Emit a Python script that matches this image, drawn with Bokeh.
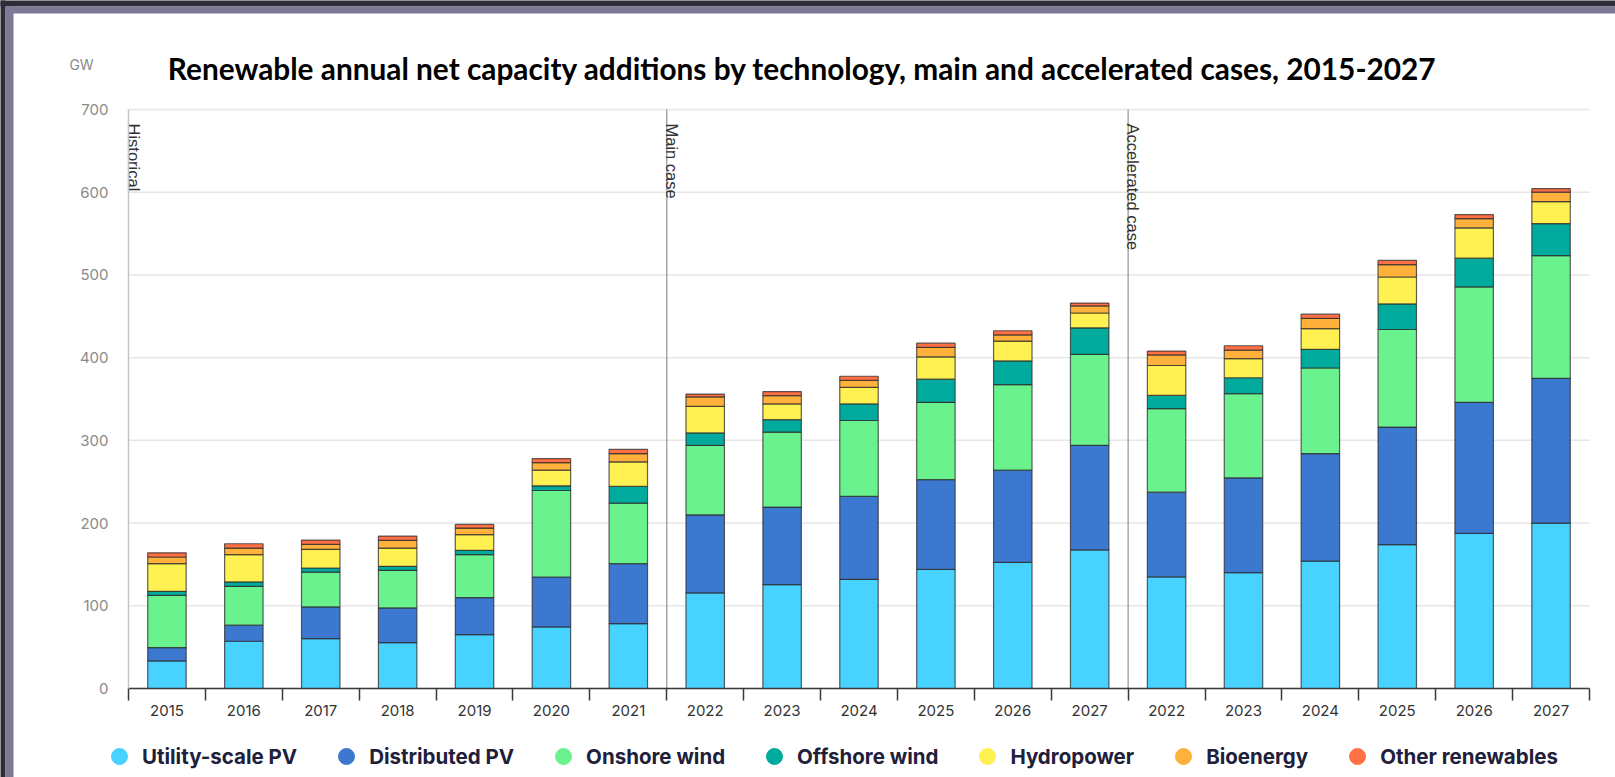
import math
from bokeh.plotting import figure
from bokeh.models import (ColumnDataSource, Range1d, FixedTicker, Label,
                          Legend, LegendItem)
from bokeh.core.properties import value
from bokeh.embed import file_html
from bokeh.resources import INLINE

# ---------------- data ----------------
hist_years = ["2015", "2016", "2017", "2018", "2019", "2020", "2021"]
main_years = ["2022", "2023", "2024", "2025", "2026", "2027"]
acc_years = ["2022", "2023", "2024", "2025", "2026", "2027"]
section_labels = ["Historical", "Main case", "Accelerated case"]

series_names = ["Utility-scale PV", "Distributed PV", "Onshore wind", "Offshore wind",
                "Hydropower", "Bioenergy", "Other renewables"]
colors = ["#48D2FF", "#3C78D0", "#6AF28F", "#00AA9C", "#FFF152", "#FFB13B", "#FF7044"]

utility_pv = [33.4, 57.1, 60.4, 55.5, 65.2, 74.4, 78.5,
              115.5, 125.6, 132.0, 144.0, 152.5, 167.5,
              135.0, 140.0, 154.0, 174.0, 187.5, 200.0]
distributed_pv = [16.1, 19.4, 38.2, 41.9, 44.7, 60.4, 72.4,
                  94.5, 93.7, 100.2, 108.5, 111.5, 126.5,
                  102.4, 114.7, 130.0, 142.0, 158.5, 175.0]
onshore_wind = [63.2, 47.0, 42.2, 45.5, 51.9, 104.6, 73.1,
                84.0, 90.7, 91.8, 93.5, 103.5, 110.0,
                100.9, 101.7, 103.5, 118.0, 139.5, 148.4]
offshore_wind = [4.8, 5.3, 4.9, 4.8, 5.2, 5.6, 20.3,
                 15.0, 15.0, 20.0, 28.0, 28.5, 32.0,
                 16.0, 19.3, 22.5, 31.0, 34.7, 38.7]
hydropower = [33.5, 33.0, 22.5, 22.1, 19.0, 19.0, 29.7,
              32.0, 19.0, 20.0, 27.0, 24.0, 18.0,
              36.2, 23.1, 25.0, 32.5, 36.7, 26.6]
bioenergy = [8.0, 8.0, 6.0, 9.2, 8.0, 9.0, 10.0,
             11.5, 10.0, 8.5, 11.5, 7.5, 8.5,
             12.8, 10.2, 12.5, 15.0, 11.2, 11.3]
other_renewables = [5.0, 5.2, 5.3, 5.3, 4.4, 5.0, 5.0,
                    3.5, 5.0, 5.0, 5.0, 5.0, 3.5,
                    4.7, 5.4, 5.0, 5.0, 4.9, 4.4]

y_ticks = [0, 100, 200, 300, 400, 500, 600, 700]
title_text = "Renewable annual net capacity additions by technology, main and accelerated cases, 2015-2027"
unit_text = "GW"

# ---------------- layout (pixels) ----------------
W, H = 1615, 777
PLOT_L, PLOT_R, PLOT_T, PLOT_B = 128, 1589, 109, 688
Y_MAX = 700

labels = hist_years + main_years + acc_years
n = len(labels)
ux = (PLOT_R - PLOT_L) / n
uy = (PLOT_B - PLOT_T) / Y_MAX


def px2x(px):
    return (px - PLOT_L) / ux


def py2y(py):
    return (PLOT_B - py) / uy


xs = [i + 0.5 for i in range(n)]
keys = ["utility", "distributed", "onshore", "offshore", "hydro", "bio", "other"]
values_all = [utility_pv, distributed_pv, onshore_wind, offshore_wind,
              hydropower, bioenergy, other_renewables]
data = {"x": xs}
for k, v in zip(keys, values_all):
    data[k] = v
source = ColumnDataSource(data)

p = figure(width=W, height=H, output_backend="svg", toolbar_location=None,
           x_range=Range1d(px2x(0), px2x(W)), y_range=Range1d(py2y(H), py2y(0)),
           min_border_left=0, min_border_right=0, min_border_top=0,
           min_border_bottom=0, outline_line_color=None)
p.background_fill_color = "white"
p.border_fill_color = "white"
p.xgrid.visible = False
p.ygrid.visible = False

# window frame bands (top / left), extended past the canvas edges
dark, lav = "#2d2c37", "#7c7a97"
p.quad(left=[px2x(-20), px2x(-20)], right=[px2x(W + 40), px2x(5)],
       top=[py2y(-20), py2y(-20)], bottom=[py2y(6), py2y(H + 40)],
       fill_color=dark, line_color=None)
p.quad(left=[px2x(5), px2x(5)], right=[px2x(W + 40), px2x(13)],
       top=[py2y(6), py2y(6)], bottom=[py2y(13), py2y(H + 40)],
       fill_color=lav, line_color=None)

# horizontal grid lines
p.segment(x0=0, x1=n, y0=y_ticks, y1=y_ticks, line_color="#e6e6e6", line_width=1.5)

# section dividers and labels
section_starts = [0, len(hist_years), len(hist_years) + len(main_years)]
p.segment(x0=section_starts[1:], x1=section_starts[1:], y0=0, y1=Y_MAX,
          line_color="#9a9a9a", line_width=1.3)
p.text(x=section_starts, y=[Y_MAX] * 3, text=section_labels, angle=-math.pi / 2,
       text_align="left", text_baseline="alphabetic", x_offset=5, y_offset=14,
       text_font=value("Liberation Sans"), text_font_size="16.5px", text_color="#333333")

p.vbar_stack(keys, x="x", width=0.5, source=source, color=colors,
             line_color="#2b2b2b", line_alpha=0.75, line_width=1.2)

# y axis
yax = p.yaxis[0]
yax.fixed_location = 0
yax.bounds = (0, Y_MAX)
yax.ticker = FixedTicker(ticks=y_ticks)
yax.major_tick_out = 0
yax.major_tick_in = 0
yax.minor_tick_out = 0
yax.minor_tick_in = 0
yax.axis_line_color = "#c4c4c4"
yax.axis_line_width = 1.5
yax.major_label_standoff = 20
yax.major_label_text_font = "Inter"
yax.major_label_text_font_size = "15px"
yax.major_label_text_color = "#8a8a8a"

# x axis: labels at bar centres, ticks at boundaries
xax = p.xaxis[0]
xax.fixed_location = 0
xax.bounds = (0, n)
xax.ticker = FixedTicker(ticks=xs, minor_ticks=list(range(n + 1)))
xax.major_label_overrides = {x: lab for x, lab in zip(xs, labels)}
xax.major_tick_out = 0
xax.major_tick_in = 0
xax.minor_tick_out = 12
xax.minor_tick_in = 0
xax.minor_tick_line_color = "#3a3a3a"
xax.minor_tick_line_width = 1.5
xax.axis_line_color = "#3a3a3a"
xax.axis_line_width = 1.5
xax.major_label_standoff = 4
xax.major_label_text_font = "Inter"
xax.major_label_text_font_size = "15px"
xax.major_label_text_color = "#333333"

# title and unit
p.add_layout(Label(x=px2x(802), y=py2y(68), text=title_text,
                   text_align="center", text_baseline="middle", text_font="Lato",
                   text_font_style="bold", text_font_size="29.8px", text_color="#000000"))
p.add_layout(Label(x=px2x(81), y=py2y(64), text=unit_text,
                   text_align="center", text_baseline="middle", text_font="Inter",
                   text_font_size="14px", text_color="#8a8a8a"))

# legend with circle markers (dummy renderers placed off-canvas)
items = []
for name, c in zip(series_names, colors):
    r = p.scatter(x=[px2x(-200)], y=[py2y(-200)], marker="circle", size=16,
                  fill_color=c, line_color=c)
    items.append(LegendItem(label=name, renderers=[r]))
legend = Legend(items=items, orientation="horizontal", location=(99, 1),
                glyph_width=40, glyph_height=40, label_standoff=3, spacing=29,
                padding=0, margin=0, border_line_color=None, background_fill_alpha=0,
                label_text_font="Inter", label_text_font_style="bold",
                label_text_font_size="20.5px", label_text_color="#20203a")
p.add_layout(legend, "center")

open("out.html", "w").write(file_html(p, INLINE))
